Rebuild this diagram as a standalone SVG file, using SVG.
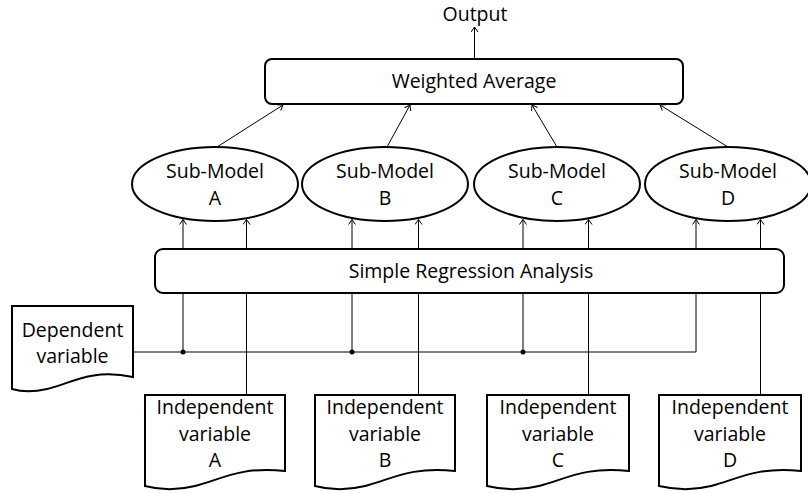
<svg xmlns="http://www.w3.org/2000/svg" width="808" height="493" viewBox="0 0 808 493">
<style>
text{font-family:"Open Sans","Liberation Sans",sans-serif;font-size:19.5px;fill:#000;text-anchor:middle}
.box{fill:#fff;stroke:#000;stroke-width:2}
.c{fill:none;stroke:#000;stroke-width:1}
</style>
<defs>
<marker id="ah" viewBox="0 0 6 8" refX="5.5" refY="4" markerWidth="6" markerHeight="8" markerUnits="userSpaceOnUse" orient="auto">
<path d="M0.5,0.5 L5.5,4 L0.5,7.5" fill="none" stroke="#000" stroke-width="1"/>
</marker>
</defs>
<rect width="808" height="493" fill="#fff"/>
<g id="connectors">
<path class="c" d="M474.5,59 V27" marker-end="url(#ah)"/>
<path class="c" d="M217,147 L283,105" marker-end="url(#ah)"/>
<path class="c" d="M387,147 L410,105" marker-end="url(#ah)"/>
<path class="c" d="M557,147 L532,105" marker-end="url(#ah)"/>
<path class="c" d="M728,147 L660,105" marker-end="url(#ah)"/>
<path class="c" d="M133,352 H696 V219.5" marker-end="url(#ah)"/>
<path class="c" d="M183,352 V219.5" marker-end="url(#ah)"/>
<path class="c" d="M352,352 V219.5" marker-end="url(#ah)"/>
<path class="c" d="M523,352 V219.5" marker-end="url(#ah)"/>
<path class="c" d="M246.5,395 V219.5" marker-end="url(#ah)"/>
<path class="c" d="M418.5,395 V219.5" marker-end="url(#ah)"/>
<path class="c" d="M588.5,395 V219.5" marker-end="url(#ah)"/>
<path class="c" d="M760.5,395 V219.5" marker-end="url(#ah)"/>
<circle cx="183" cy="352" r="2.5" fill="#000"/>
<circle cx="352" cy="352" r="2.5" fill="#000"/>
<circle cx="523" cy="352" r="2.5" fill="#000"/>
</g>
<g id="output"><text x="475" y="20.5">Output</text></g>
<g id="weighted-average">
<rect class="box" x="265" y="59" width="418" height="45" rx="7"/>
<text x="474" y="88">Weighted Average</text>
</g>
<g id="submodel-a">
<ellipse class="box" cx="215" cy="184" rx="83" ry="37"/>
<text x="215" y="178">Sub-Model</text><text x="215" y="205">A</text>
</g>
<g id="submodel-b">
<ellipse class="box" cx="385" cy="184" rx="83" ry="37"/>
<text x="385" y="178">Sub-Model</text><text x="385" y="205">B</text>
</g>
<g id="submodel-c">
<ellipse class="box" cx="557" cy="184" rx="83" ry="37"/>
<text x="557" y="178">Sub-Model</text><text x="557" y="205">C</text>
</g>
<g id="submodel-d">
<ellipse class="box" cx="728" cy="184" rx="83" ry="37"/>
<text x="728" y="178">Sub-Model</text><text x="728" y="205">D</text>
</g>
<g id="regression">
<rect class="box" x="155" y="249" width="629" height="44" rx="8"/>
<text x="471" y="278">Simple Regression Analysis</text>
</g>
<g id="dependent">
<path class="box" d="M12,306 H133 V377 C90,368 70,384 47,389 C34,392 22,392 12,389 Z"/>
<text x="72.5" y="337">Dependent</text><text x="72.5" y="363">variable</text>
</g>
<g id="independent-a">
<path class="box" d="M145,395 H285 V471 C240,466 220,480 195,486 C175,491 160,490 145,486 Z"/>
<text x="215" y="414">Independent</text><text x="215" y="441">variable</text><text x="215" y="467">A</text>
</g>
<g id="independent-b">
<path class="box" d="M315,395 H455 V471 C410,466 390,480 365,486 C345,491 330,490 315,486 Z"/>
<text x="385" y="414">Independent</text><text x="385" y="441">variable</text><text x="385" y="467">B</text>
</g>
<g id="independent-c">
<path class="box" d="M487,395 H629 V471 C584,466 564,480 539,486 C519,491 504,490 487,486 Z"/>
<text x="558" y="414">Independent</text><text x="558" y="441">variable</text><text x="558" y="467">C</text>
</g>
<g id="independent-d">
<path class="box" d="M659,395 H801 V471 C756,466 736,480 711,486 C691,491 676,490 659,486 Z"/>
<text x="730" y="414">Independent</text><text x="730" y="441">variable</text><text x="730" y="467">D</text>
</g>
</svg>
